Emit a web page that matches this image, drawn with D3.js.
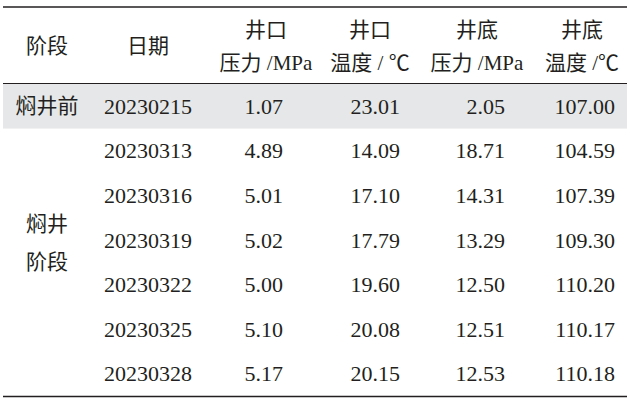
<!DOCTYPE html><html><head><meta charset="utf-8"><script src="https://cdn.jsdelivr.net/npm/d3@7"></script>
<style>body{margin:0;background:#fff}</style></head><body><svg id="c" width="630" height="402"></svg><script>
const headers1=["阶段","日期","井口","井口","井底","井底"];
const headers2=["","","压力 /MPa","温度 / ℃","压力 /MPa","温度 /℃"];
const dates=["20230215","20230313","20230316","20230319","20230322","20230325","20230328"];
const headP=[1.07,4.89,5.01,5.02,5.00,5.10,5.17];
const headT=[23.01,14.09,17.10,17.79,19.60,20.08,20.15];
const botP=[2.05,18.71,14.31,13.29,12.50,12.51,12.53];
const botT=[107.00,104.59,107.39,109.30,110.20,110.17,110.18];
const svg=d3.select("#c");
const font="'Liberation Serif','Noto Sans CJK SC',serif";
const y=d3.scaleBand().domain(d3.range(7)).range([84,396]);
svg.append("rect").attr("x",3).attr("width",624).attr("y",y(0)).attr("height",y.bandwidth()).attr("fill","#e6e7e8");
[[7,1.6],[83.5,1.2],[396.5,1.6]].forEach(([yy,w])=>svg.append("line").attr("x1",3).attr("x2",627).attr("y1",yy).attr("y2",yy).attr("stroke","#231f20").attr("stroke-width",w));
const t=(x,yy,s,anchor,fs)=>svg.append("text").attr("x",x).attr("y",yy).attr("text-anchor",anchor||"middle").attr("dominant-baseline","central").attr("font-family",font).attr("font-size",fs||22).attr("fill","#231f20").text(s);
t(47,46,headers1[0],null,21);t(148,46,headers1[1],null,21);
const hx=[266,370,477,582];
hx.forEach((x,i)=>{t(x,30,headers1[i+2],null,21);t(x,63,headers2[i+2],null,21);});
t(47,y(0)+y.bandwidth()/2,"焖井前","middle",21);
t(47,y(3)+y.bandwidth()/2-16,"焖井","middle",21);t(47,y(3)+y.bandwidth()/2+22,"阶段","middle",21);
const f=d3.format(".2f");
dates.forEach((d,i)=>{const cy=y(i)+y.bandwidth()/2;
t(148,cy,d);t(283,cy,f(headP[i]),"end");t(400,cy,f(headT[i]),"end");t(505,cy,f(botP[i]),"end");t(615,cy,f(botT[i]),"end");});
</script></body></html>
